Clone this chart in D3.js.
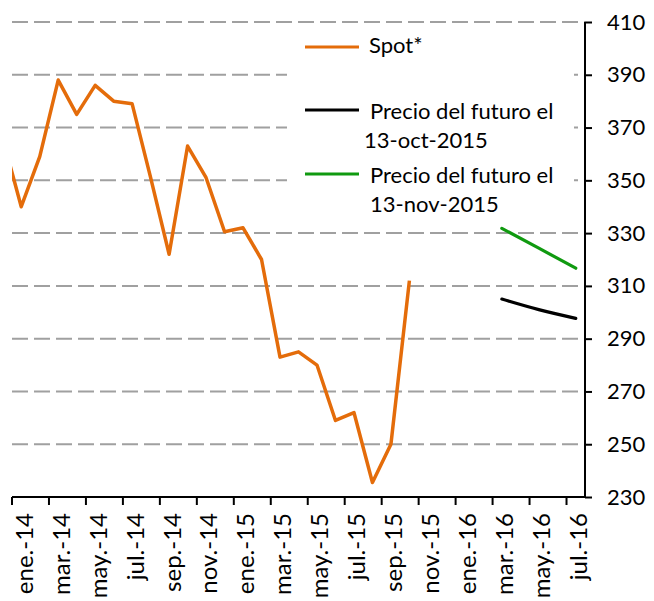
<!DOCTYPE html>
<html>
<head>
<meta charset="utf-8">
<script src="https://d3js.org/d3.v7.min.js"></script>
<style>
    body { margin: 0; background: #ffffff; }
    svg { display: block; font-family: Lato, "Open Sans", sans-serif; }
</style>
</head>
<body>
<svg id="chart" width="654" height="601"></svg>
<script>
/** Month labels on the category axis (ene.-14 ... jul.-16) */
var months = ['ene.-14', 'feb.-14', 'mar.-14', 'abr.-14', 'may.-14', 'jun.-14', 'jul.-14', 'ago.-14',
    'sep.-14', 'oct.-14', 'nov.-14', 'dic.-14', 'ene.-15', 'feb.-15', 'mar.-15', 'abr.-15',
    'may.-15', 'jun.-15', 'jul.-15', 'ago.-15', 'sep.-15', 'oct.-15', 'nov.-15', 'dic.-15',
    'ene.-16', 'feb.-16', 'mar.-16', 'abr.-16', 'may.-16', 'jun.-16', 'jul.-16'];

/** Spot price, monthly, dic.-13 (index -1) to oct.-15 */
var spotStart = -1;
var spotValues = [366, 340, 359, 388, 375, 386, 380, 379, 351, 322, 363, 351, 330.5, 332,
    320, 283, 285, 280, 259, 262, 235.5, 250, 312];

/** Futures curves: month index and price */
var futureMonths = [26, 28, 30];
var futureOct = [305, 301, 297.7];
var futureNov = [331.8, 324.3, 316.7];

/** Right axis ticks */
var yTicks = [230, 250, 270, 290, 310, 330, 350, 370, 390, 410];

var legendItems = [
    {label: ['Spot*'], color: '#E46C0A'},
    {label: ['Precio del futuro el', '13-oct-2015'], color: '#000000'},
    {label: ['Precio del futuro el', '13-nov-2015'], color: '#109A10'}
];

var plotLeft = 12, plotRight = 585, plotTop = 22, plotBottom = 497;

var svg = d3.select('#chart');

var x = d3.scaleLinear()
    .domain([0, months.length])
    .range([plotLeft, plotRight]);

var y = d3.scaleLinear()
    .domain([230, 410])
    .range([plotBottom, plotTop]);

svg.append('clipPath')
    .attr('id', 'plotClip')
    .append('rect')
    .attr('x', plotLeft)
    .attr('y', 0)
    .attr('width', plotRight - plotLeft)
    .attr('height', 601);

/** dashed gridlines */
svg.append('g')
    .selectAll('line')
    .data(yTicks)
    .enter()
    .append('line')
    .attr('x1', plotLeft)
    .attr('x2', plotRight)
    .attr('y1', function (d) { return y(d); })
    .attr('y2', function (d) { return y(d); })
    .style('stroke', '#a0a0a0')
    .style('stroke-width', 2)
    .style('stroke-dasharray', '16,6');

/** legend box covers the gridlines behind it */
svg.append('rect')
    .attr('x', 287)
    .attr('y', 30)
    .attr('width', 287)
    .attr('height', 185)
    .style('fill', '#ffffff');

var line = d3.line()
    .x(function (d) { return x(d.i + 0.5); })
    .y(function (d) { return y(d.v); });

var spotData = spotValues.map(function (v, k) {
    return {i: spotStart + k, v: v};
});

svg.append('path')
    .datum(spotData)
    .attr('d', line)
    .attr('clip-path', 'url(#plotClip)')
    .style('fill', 'none')
    .style('stroke', legendItems[0].color)
    .style('stroke-width', 3.5)
    .style('stroke-linejoin', 'round');

var curveLine = d3.line()
    .x(function (d) { return x(d.i + 0.5); })
    .y(function (d) { return y(d.v); })
    .curve(d3.curveMonotoneX);

[futureOct, futureNov].forEach(function (series, s) {
    var data = series.map(function (v, k) {
        return {i: futureMonths[k], v: v};
    });
    svg.append('path')
        .datum(data)
        .attr('d', curveLine)
        .style('fill', 'none')
        .style('stroke', legendItems[s + 1].color)
        .style('stroke-width', 3.2)
        .style('stroke-linecap', 'round');
});

/** right axis */
var yAxis = d3.axisRight(y)
    .tickValues(yTicks)
    .tickSize(7)
    .tickPadding(15)
    .tickFormat(d3.format('d'));

var gy = svg.append('g')
    .attr('transform', 'translate(' + plotRight + ',0)')
    .call(yAxis);
gy.select('.domain').attr('d', 'M0,' + plotTop + 'V' + plotBottom).style('stroke-width', 2);
gy.selectAll('.tick line').style('stroke-width', 2);
gy.selectAll('text')
    .style('font-family', 'Lato, sans-serif')
    .style('font-size', '22px')
    .style('fill', '#000');

/** bottom axis, tick every two months */
var evenIdx = d3.range(0, months.length, 2);
var gx = svg.append('g');
gx.append('line')
    .attr('x1', plotLeft)
    .attr('x2', plotRight)
    .attr('y1', plotBottom)
    .attr('y2', plotBottom)
    .style('stroke', '#000')
    .style('stroke-width', 2);
gx.selectAll('.xtick')
    .data(evenIdx)
    .enter()
    .append('line')
    .attr('x1', function (d) { return x(d); })
    .attr('x2', function (d) { return x(d); })
    .attr('y1', plotBottom)
    .attr('y2', plotBottom + 8)
    .style('stroke', '#000')
    .style('stroke-width', 2);
gx.selectAll('text')
    .data(evenIdx)
    .enter()
    .append('text')
    .attr('transform', function (d) {
        return 'translate(' + (x(d + 0.5) + 3) + ',' + 513 + ') rotate(-90)';
    })
    .attr('text-anchor', 'end')
    .attr('dy', '0.35em')
    .style('font-size', '24px')
    .text(function (d) { return months[d]; });

/** legend */
var legendRows = [
    {lineY: 47, textX: 369, base: [53]},
    {lineY: 110, textX: 370, base: [119, 148]},
    {lineY: 174, textX: 370, base: [183, 212]}
];
legendItems.forEach(function (item, k) {
    var row = legendRows[k];
    svg.append('line')
        .attr('x1', 305)
        .attr('x2', 359)
        .attr('y1', row.lineY)
        .attr('y2', row.lineY)
        .style('stroke', item.color)
        .style('stroke-width', 3);
    item.label.forEach(function (t, j) {
        svg.append('text')
            .attr('x', (k == 1 && j == 1) ? 364 : row.textX)
            .attr('y', row.base[j])
            .style('font-size', '22px')
            .text(t);
    });
});
</script>
</body>
</html>
